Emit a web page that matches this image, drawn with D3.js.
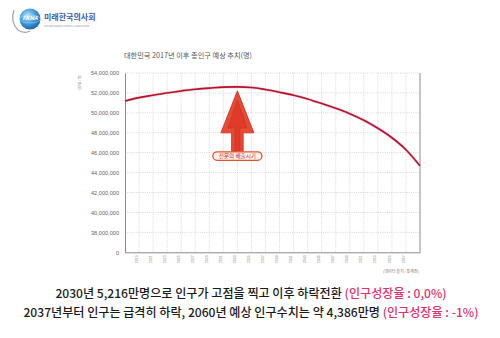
<!DOCTYPE html>
<html><head><meta charset="utf-8">
<script src="https://cdn.jsdelivr.net/npm/d3@7"></script>
<style>
html,body{margin:0;padding:0;background:#fff;}
svg{display:block;font-family:"Noto Sans CJK KR","Noto Sans",sans-serif;}
</style></head><body>
<svg id="c" width="500" height="338"></svg>
<script>
// ---- data ----
const years = [2017,2019,2021,2023,2025,2027,2029,2031,2033,2035,2037,2039,2041,2043,2045,2047,2049,2051,2053,2055,2057,2059];
const population = [51190000,51530000,51770000,52000000,52200000,52370000,52480000,52580000,52610000,52550000,52340000,52070000,51770000,51390000,50930000,50450000,49910000,49250000,48450000,47500000,46300000,44680000];
const yTickValues = [0,38000000,40000000,42000000,44000000,46000000,48000000,50000000,52000000,54000000];
const xTickYears = [2019,2021,2023,2025,2027,2029,2031,2033,2035,2037,2039,2041,2043,2045,2047,2049,2051,2053,2055,2057];
const peakYear = 2033;
const chartTitle = "대한민국 2017년 이후 총인구 예상 추치(명)";
const arrowLabel = "전문의 배출시기";
const sourceText = "(데이터 출처 : 통계청)";
const unitText = "(단위 : 명)";
const line1 = ["2030년 5,216만명으로 인구가 고점을 찍고 이후 하락전환 ", "(인구성장율 : 0,0%)"];
const line2 = ["2037년부터 인구는 급격히 하락, 2060년 예상 인구수치는 약 4,386만명 ", "(인구성장율 : -1%)"];

const svg = d3.select("#c");
const L = 125, R = 420, T = 73, B = 252.3;
const x = d3.scaleLinear().domain([2017, 2059]).range([L, R]);
const y = d3.scaleLinear().domain([36000000, 54000000]).range([B, T]);
const yPos = v => v === 0 ? y(36000000) : y(v);

// ---- logo ----
const defs = svg.append("defs");
const rg = defs.append("radialGradient").attr("id","globe").attr("cx","40%").attr("cy","35%").attr("r","70%");
rg.append("stop").attr("offset","0%").attr("stop-color","#bfe3f7");
rg.append("stop").attr("offset","55%").attr("stop-color","#3b9bd6");
rg.append("stop").attr("offset","100%").attr("stop-color","#1d5ea8");
const logo = svg.append("g");
logo.append("path").attr("d","M14 10 Q10 22 18 30 Q24 34 30 31").attr("fill","none").attr("stroke","#9aa3ab").attr("stroke-width",1.2);
logo.append("circle").attr("cx",30).attr("cy",19).attr("r",10.5).attr("fill","url(#globe)");
logo.append("ellipse").attr("cx",30).attr("cy",19).attr("rx",10.5).attr("ry",4).attr("fill","none").attr("stroke","#e8f4fb").attr("stroke-width",0.5).attr("opacity",0.7);
logo.append("text").attr("x",30).attr("y",20).attr("text-anchor","middle").attr("font-size",5.5).attr("font-weight","bold").attr("fill","#fff").attr("font-style","italic").text("FKMA");
logo.append("text").attr("x",44).attr("y",20).attr("font-size",8).attr("font-weight","bold").attr("fill","#3b5ca8").text("미래한국의사회");
logo.append("text").attr("x",44).attr("y",26.5).attr("font-size",2.4).attr("fill","#8a93a8").text("FUTURE KOREAN MEDICAL ASSOCIATION");

// ---- title ----
svg.append("text").attr("x",124).attr("y",58).attr("font-size",7.2).attr("fill","#555").text(chartTitle);

// ---- grid ----
const grid = svg.append("g").attr("stroke","#bdbdbd").attr("stroke-width",0.6).attr("stroke-dasharray","1,1.2");
yTickValues.filter(v => v !== 0).forEach(v => {
  grid.append("line").attr("x1",L).attr("x2",R).attr("y1",yPos(v)).attr("y2",yPos(v));
});
xTickYears.forEach(yr => {
  grid.append("line").attr("x1",x(yr)).attr("x2",x(yr)).attr("y1",T).attr("y2",B);
});

// ---- axes ----
const yAxis = d3.axisLeft(d3.scaleLinear().domain([36000000,54000000]).range([B,T]))
  .tickValues(yTickValues.map(v => v === 0 ? 36000000 : v))
  .tickSize(0).tickPadding(6)
  .tickFormat(v => v === 36000000 ? "0" : d3.format(",")(v));
const ya = svg.append("g").attr("transform",`translate(${L},0)`).call(yAxis);
ya.select(".domain").attr("stroke","#8c8c8c").attr("stroke-width",1);
ya.selectAll("text").attr("font-size",5.6).attr("fill","#666").attr("font-family","'Liberation Sans',sans-serif");

const xAxis = d3.axisBottom(x).tickValues(xTickYears).tickSize(0).tickFormat(d => String(d));
const xa = svg.append("g").attr("transform",`translate(0,${B})`).call(xAxis);
xa.select(".domain").attr("stroke","#8c8c8c").attr("stroke-width",1);
xa.selectAll("text").attr("font-size",3.6).attr("fill","#888")
  .attr("transform","rotate(-90)").attr("text-anchor","end").attr("dx","-3").attr("dy","-1.9")
  .attr("x",0).attr("y",0).attr("font-family","'Liberation Sans',sans-serif");
xa.selectAll(".tick text").each(function(){ d3.select(this).attr("text-anchor","end"); });

svg.append("line").attr("x1",R).attr("x2",R).attr("y1",T).attr("y2",B).attr("stroke","#8c8c8c").attr("stroke-width",1);

svg.append("text").attr("transform","translate(81,82) rotate(-90)").attr("text-anchor","middle")
  .attr("font-size",3.6).attr("fill","#777").text(unitText);

// ---- line ----
const pts = years.map((yr,i) => [yr, population[i]]);
const lineGen = d3.line().x(d => x(d[0])).y(d => y(d[1])).curve(d3.curveMonotoneX);
svg.append("path").attr("d",lineGen(pts)).attr("fill","none").attr("stroke","#f2a7b5").attr("stroke-width",2.8).attr("opacity",0.6);
svg.append("path").attr("d",lineGen(pts)).attr("fill","none").attr("stroke","#b5122f").attr("stroke-width",1.6);

// ---- arrow ----
const ax = x(peakYear);
const tipY = y(population[years.indexOf(peakYear)]) + 4;
const ag = svg.append("g");
const arrowPts = [[ax,tipY],[ax+16.5,tipY+42],[ax+5.8,tipY+42],[ax+5.8,tipY+62],[ax-5.8,tipY+62],[ax-5.8,tipY+42],[ax-16.5,tipY+42]];
ag.append("polygon").attr("points",arrowPts.map(p=>p.join(",")).join(" ")).attr("fill","#e84a33").attr("stroke","#c42a22").attr("stroke-width",0.8);
const inner = [[ax,tipY+9],[ax+9.5,tipY+37],[ax+2.5,tipY+37],[ax+2.5,tipY+60],[ax-2.5,tipY+60],[ax-2.5,tipY+37],[ax-9.5,tipY+37]];
ag.append("polygon").attr("points",inner.map(p=>p.join(",")).join(" ")).attr("fill","#e03a2a").attr("stroke","#c7301f").attr("stroke-width",0.6);
// label pill
ag.append("rect").attr("x",ax-24.5).attr("y",tipY+61).attr("width",49).attr("height",8.5).attr("rx",4.2)
  .attr("fill","#fff4ec").attr("stroke","#e0542b").attr("stroke-width",1.3);
ag.append("text").attr("x",ax).attr("y",tipY+67.4).attr("text-anchor","middle").attr("font-size",5.6).attr("fill","#b0232a").text(arrowLabel);

// ---- source ----
svg.append("text").attr("x",419).attr("y",273).attr("text-anchor","end").attr("font-size",4).attr("fill","#777").text(sourceText);

// ---- bottom text ----
function bottomLine(parts, yy, fs){
  const t = svg.append("text").attr("x",251).attr("y",yy).attr("text-anchor","middle").attr("font-size",fs).attr("fill","#1a1a1a").attr("font-weight",500);
  t.append("tspan").text(parts[0]);
  t.append("tspan").attr("fill","#e0306e").text(parts[1]);
}
bottomLine(line1, 297.5, 12.1);
bottomLine(line2, 316.5, 12.1);
</script>
</body></html>
